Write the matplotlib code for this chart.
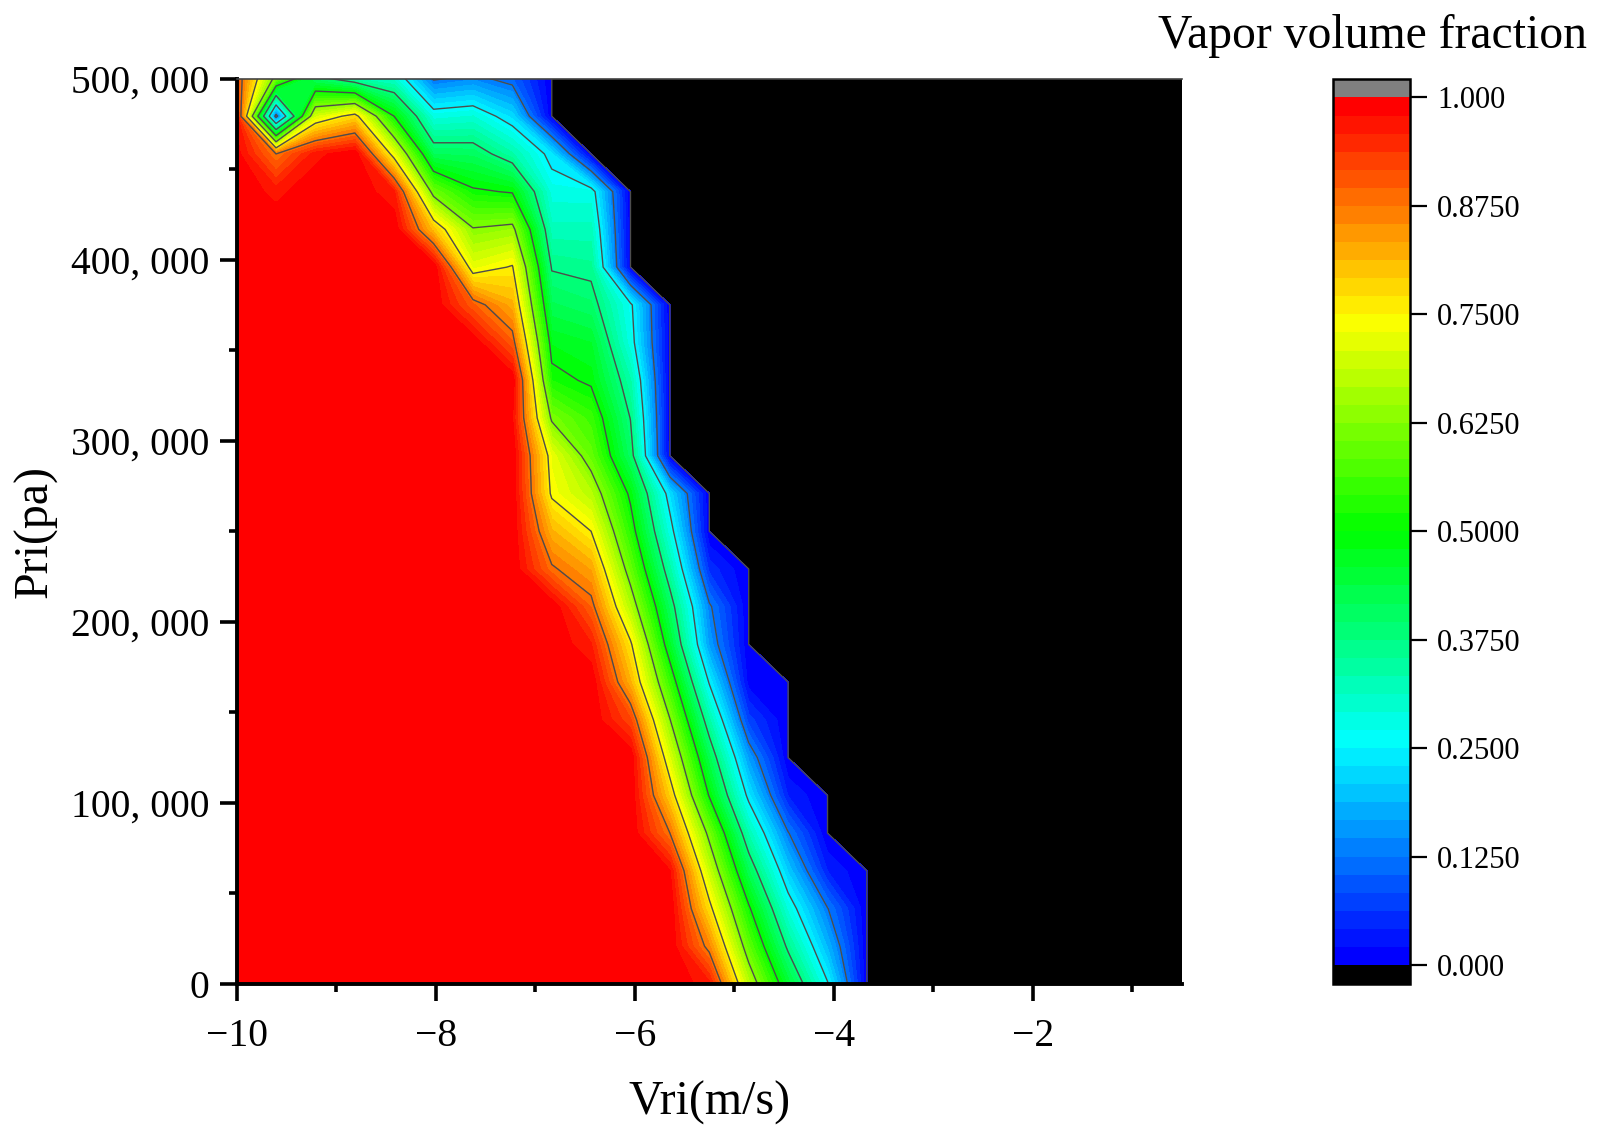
import numpy as np
import matplotlib
matplotlib.use("Agg")
import matplotlib.pyplot as plt
from matplotlib.colors import LinearSegmentedColormap, ListedColormap, BoundaryNorm

plt.rcParams['font.family'] = ['Liberation Serif', 'DejaVu Serif']

# grid the map was computed on
vri = [-10.0, -9.604, -9.208, -8.812, -8.417, -8.021, -7.625, -7.229, -6.833,
       -6.438, -6.042, -5.646, -5.25, -4.854, -4.458, -4.062, -3.667, -3.271,
       -2.875, -2.479, -2.083, -1.688, -1.292, -0.896, -0.5]
pri = [0, 20833, 41667, 62500, 83333, 104167, 125000, 145833, 166667, 187500,
       208333, 229167, 250000, 270833, 291667, 312500, 333333, 354167, 375000,
       395833, 416667, 437500, 458333, 479167, 500000]

# vapor volume fraction, one row per pressure
vapor = [
    [1, 1, 1, 1, 1, 1, 1, 1, 1, 1, 1, 1, .965, .675, .45, .255, 0, 0, 0, 0, 0, 0, 0, 0, 0],
    [1, 1, 1, 1, 1, 1, 1, 1, 1, 1, 1, 1, .858, .587, .362, .183, 0, 0, 0, 0, 0, 0, 0, 0, 0],
    [1, 1, 1, 1, 1, 1, 1, 1, 1, 1, 1, 1, .769, .51, .283, .127, 0, 0, 0, 0, 0, 0, 0, 0, 0],
    [1, 1, 1, 1, 1, 1, 1, 1, 1, 1, 1, .98, .687, .418, .204, .04, 0, 0, 0, 0, 0, 0, 0, 0, 0],
    [1, 1, 1, 1, 1, 1, 1, 1, 1, 1, 1, .875, .606, .328, .128, 0, 0, 0, 0, 0, 0, 0, 0, 0, 0],
    [1, 1, 1, 1, 1, 1, 1, 1, 1, 1, 1, .786, .495, .234, .039, 0, 0, 0, 0, 0, 0, 0, 0, 0, 0],
    [1, 1, 1, 1, 1, 1, 1, 1, 1, 1, 1, .708, .422, .16, 0, 0, 0, 0, 0, 0, 0, 0, 0, 0, 0],
    [1, 1, 1, 1, 1, 1, 1, 1, 1, 1, .92, .628, .337, .072, 0, 0, 0, 0, 0, 0, 0, 0, 0, 0, 0],
    [1, 1, 1, 1, 1, 1, 1, 1, 1, 1, .816, .546, .245, .01, 0, 0, 0, 0, 0, 0, 0, 0, 0, 0, 0],
    [1, 1, 1, 1, 1, 1, 1, 1, 1, .96, .76, .46, .16, 0, 0, 0, 0, 0, 0, 0, 0, 0, 0, 0, 0],
    [1, 1, 1, 1, 1, 1, 1, 1, 1, .894, .667, .407, .133, 0, 0, 0, 0, 0, 0, 0, 0, 0, 0, 0, 0],
    [1, 1, 1, 1, 1, 1, 1, 1, .883, .83, .593, .338, .054, 0, 0, 0, 0, 0, 0, 0, 0, 0, 0, 0, 0],
    [1, 1, 1, 1, 1, 1, 1, 1, .816, .75, .532, .275, 0, 0, 0, 0, 0, 0, 0, 0, 0, 0, 0, 0, 0],
    [1, 1, 1, 1, 1, 1, 1, 1, .74, .672, .487, .223, 0, 0, 0, 0, 0, 0, 0, 0, 0, 0, 0, 0, 0],
    [1, 1, 1, 1, 1, 1, 1, 1, .723, .593, .404, 0, 0, 0, 0, 0, 0, 0, 0, 0, 0, 0, 0, 0, 0],
    [1, 1, 1, 1, 1, 1, 1, .98, .615, .552, .373, 0, 0, 0, 0, 0, 0, 0, 0, 0, 0, 0, 0, 0, 0],
    [1, 1, 1, 1, 1, 1, 1, 1, .52, .49, .335, 0, 0, 0, 0, 0, 0, 0, 0, 0, 0, 0, 0, 0, 0],
    [1, 1, 1, 1, 1, 1, 1, .9, .476, .458, .277, 0, 0, 0, 0, 0, 0, 0, 0, 0, 0, 0, 0, 0, 0],
    [1, 1, 1, 1, 1, 1, .9, .82, .42, .4, .262, 0, 0, 0, 0, 0, 0, 0, 0, 0, 0, 0, 0, 0, 0],
    [1, 1, 1, 1, 1, 1, .72, .755, .37, .36, 0, 0, 0, 0, 0, 0, 0, 0, 0, 0, 0, 0, 0, 0, 0],
    [1, 1, 1, 1, 1, .8, .63, .646, .32, .32, 0, 0, 0, 0, 0, 0, 0, 0, 0, 0, 0, 0, 0, 0, 0],
    [1, .97, 1, 1, .96, .6, .51, .495, .28, .278, 0, 0, 0, 0, 0, 0, 0, 0, 0, 0, 0, 0, 0, 0, 0],
    [.99, .875, .97, 1, .723, .415, .41, .337, .23, 0, 0, 0, 0, 0, 0, 0, 0, 0, 0, 0, 0, 0, 0, 0, 0],
    [.97, .1, .7, .775, .5, .28, .292, .22, 0, 0, 0, 0, 0, 0, 0, 0, 0, 0, 0, 0, 0, 0, 0, 0, 0],
    [.92, .6, .4, .33, .3, .118, .14, .105, 0, 0, 0, 0, 0, 0, 0, 0, 0, 0, 0, 0, 0, 0, 0, 0, 0],
]

x_major = [-10, -8, -6, -4, -2]
x_major_labels = ['\u221210', '\u22128', '\u22126', '\u22124', '\u22122']
x_minor = [-9, -7, -5, -3, -1]
y_major = [0, 100000, 200000, 300000, 400000, 500000]
y_major_labels = ['0', '100, 000', '200, 000', '300, 000', '400, 000', '500, 000']
y_minor = [50000, 150000, 250000, 350000, 450000]
cbar_ticks = [0, 0.125, 0.25, 0.375, 0.5, 0.625, 0.75, 0.875, 1.0]
cbar_labels = ['0.000', '0.1250', '0.2500', '0.3750', '0.5000', '0.6250', '0.7500', '0.8750', '1.000']
line_levels = [0, 0.125, 0.25, 0.375, 0.5, 0.625, 0.75, 0.875]

W, H = 1599, 1134

def px_axes(left, top, right, bottom):
    return [left / W, 1 - bottom / H, (right - left) / W, (bottom - top) / H]

# 48 bands running blue - cyan - green - yellow - red
base = LinearSegmentedColormap.from_list(
    'bcgyr', ['#0000ff', '#00ffff', '#00ff00', '#ffff00', '#ff0000'])
n_bands = 48
cmap = ListedColormap([base(i / (n_bands - 1)) for i in range(n_bands)])
cmap.set_under('black')
cmap.set_over('#808080')
levels = np.linspace(0, 1, n_bands + 1)
norm = BoundaryNorm(levels, n_bands)

fig = plt.figure(figsize=(W / 100, H / 100), dpi=100)
ax = fig.add_axes(px_axes(236.6, 78.5, 1182, 984))

cf = ax.contourf(vri, pri, vapor, levels=levels, cmap=cmap, norm=norm, extend='both')
cf.set_edgecolor('face')
cf.set_linewidth(0.3)
ax.contour(vri, pri, vapor, levels=line_levels, colors='#4d4d4d', linewidths=1.0)

ax.set_xlim(-10, -0.5)
ax.set_ylim(0, 500000)
ax.set_xticks(x_major, x_major_labels)
ax.set_xticks(x_minor, minor=True)
ax.set_yticks(y_major, y_major_labels)
ax.set_yticks(y_minor, minor=True)
ax.tick_params(which='major', length=12.5, width=2.6, labelsize=28.5, pad=7)
ax.tick_params(which='minor', length=6, width=2.6)
ax.tick_params(axis='x', which='major', pad=12)

for side in ['left', 'bottom']:
    ax.spines[side].set_linewidth(2.8)
ax.spines['top'].set_linewidth(1.2)
ax.spines['top'].set_color('#444444')
ax.spines['right'].set_visible(False)

ax.set_xlabel('Vri(m/s)', fontsize=34.5)
ax.set_ylabel('Pri(pa)', fontsize=34.5)
ax.xaxis.set_label_coords(0.5, -0.107)
ax.yaxis.set_label_coords(-0.189, 0.5)

cax = fig.add_axes(px_axes(1333, 78.5, 1409.5, 984))
cb = fig.colorbar(cf, cax=cax, extend='both', extendrect=True, extendfrac=0.0219,
                  spacing='proportional')
cb.set_ticks(cbar_ticks, labels=cbar_labels)
cb.ax.minorticks_off()
cb.ax.tick_params(length=12, width=1.6, labelsize=22, pad=8)
cb.outline.set_linewidth(1.8)

fig.text(1372 / W, 1 - 48 / H, 'Vapor volume fraction', fontsize=34.3, ha='center', va='baseline')

fig.savefig('out.png', dpi=100)
